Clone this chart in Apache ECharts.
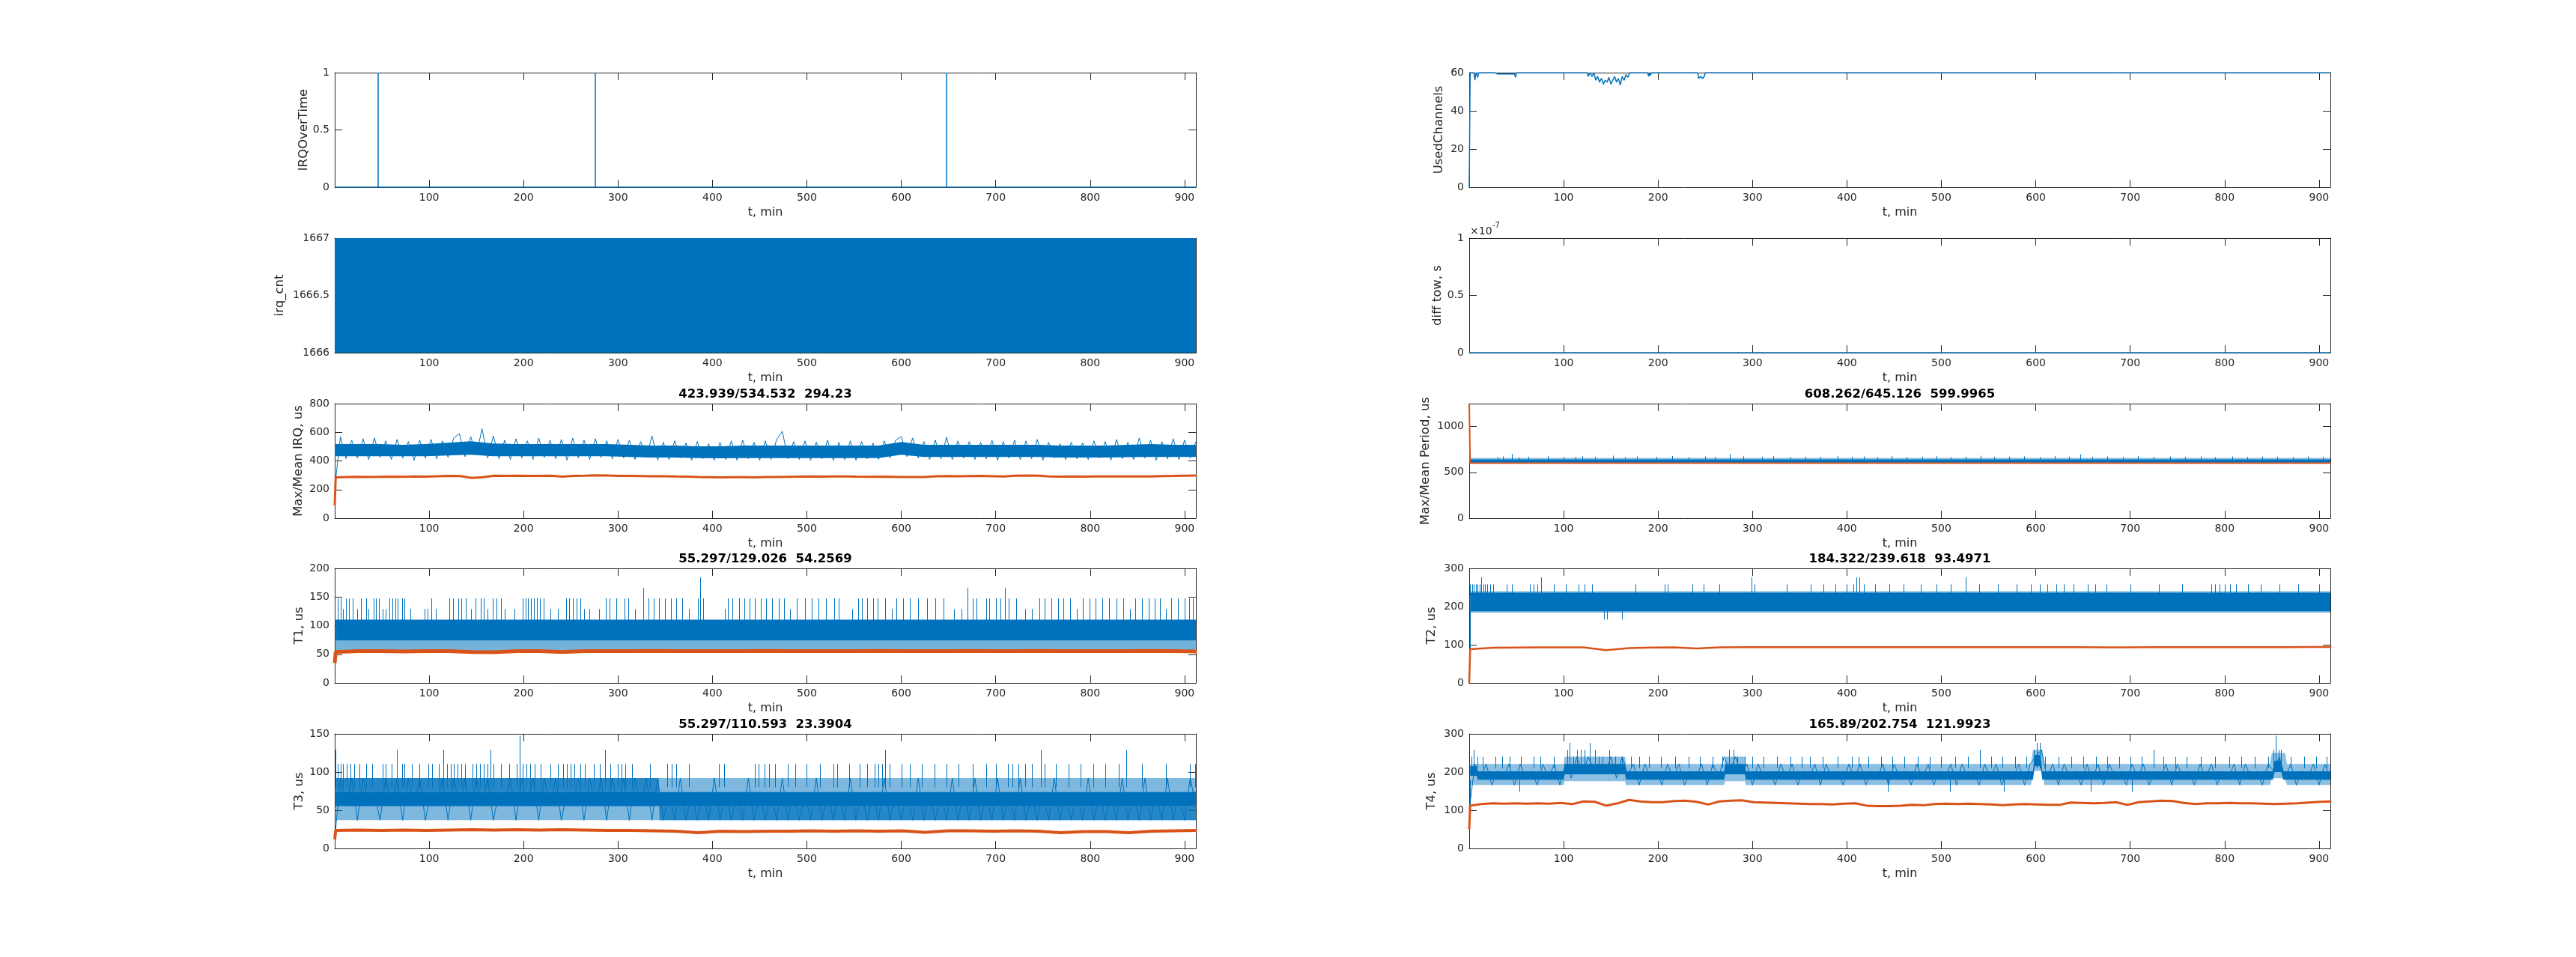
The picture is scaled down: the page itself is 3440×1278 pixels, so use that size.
<!DOCTYPE html>
<html>
<head>
<meta charset="utf-8">
<title>IRQ timing log</title>
<script src="https://cdn.jsdelivr.net/npm/echarts/dist/echarts.min.js"></script>
<style>
  html, body { margin: 0; padding: 0; background: #fff; }
  #chart { width: 3440px; height: 1278px; }
</style>
</head>
<body>
<div id="chart"></div>
<script>
// ---- data (t in minutes) ----

// IRQOverTime: zero with three single-sample hits
var irqOverPts = [[0, 0], [46, 0], [46, 1], [46, 0], [276, 0], [276, 1], [276, 0], [648, 0], [648, 1], [648, 0], [912, 0]];

// irq_cnt flips between 1666 and 1667 on every sample -> solid block
var cntBandT = [0, 912];
var cntBandLo = [1666, 1666];
var cntBandHi = [1667, 1667];

// Max/Mean IRQ, us
var irqMaxBandT0 = 0, irqMaxBandStep = 24;
var irqMaxBandLo = [433,433,433,433,433,438,443,433,433,433,433,433,433,428,423,423,420,418,420,420,420,420,420,420,420,443,428,428,428,428,428,428,423,423,423,426,428,428,428];
var irqMaxBandHi = [517,517,517,512,517,527,537,522,517,517,517,517,517,512,507,507,502,502,507,507,507,507,507,507,507,532,512,512,512,512,512,512,507,507,507,512,517,512,512];
var irqMaxStep = 6;
var irqMax = [210,570,415,545,420,555,410,560,425,540,
  410,550,420,535,405,545,420,550,415,540,
  425,560,590,430,570,440,625,420,575,415,
  545,410,555,420,540,410,560,425,545,415,
  550,405,560,420,545,410,555,425,540,415,
  550,420,545,410,535,425,575,405,530,410,
  540,420,525,405,535,415,520,405,530,410,
  540,405,545,415,530,405,540,410,550,607,
  415,535,410,540,405,530,415,545,405,530,
  410,540,405,535,415,525,410,540,420,545,
  570,430,560,420,535,410,545,415,565,410,
  540,420,535,410,530,415,545,405,535,420,
  545,410,540,415,550,405,530,420,520,410,
  530,415,525,410,540,420,535,405,550,415,
  530,410,560,420,545,405,535,415,555,410,
  545,420,535];
var irqMeanHead = [0, 90];
var irqMeanStep = 12;
var irqMean = [285,288,289,288,289,290,289,291,290,293,
  295,294,281,286,297,296,297,295,296,297,
  290,296,297,299,298,296,295,294,293,293,
  291,290,287,286,285,286,286,285,287,288,
  289,290,291,290,291,292,290,289,290,289,
  288,287,288,293,294,293,294,295,293,291,
  297,298,297,292,290,291,290,291,292,291,
  292,291,292,294,295,297,298];

// T1, us (values sit on an 18.43 us grid)
var t1CoreT = [1, 912], t1CoreLo = [73.7, 73.7], t1CoreHi = [110.6, 110.6];
var t1LightT = [1, 912], t1LightLo = [55.3, 55.3], t1LightHi = [73.7, 73.7];
var t1Spikes = [[3,147.5],[6,147.5],[9,129],[12,147.5],[15,147.5],[19,147.5],[24,129],[28,147.5],[33,147.5],[36,129],
  [41,147.5],[44,147.5],[47,147.5],[51,129],[54,129],[58,147.5],[61,147.5],[64,147.5],[67,147.5],[71,147.5],[74,147.5],
  [80,129],[95,129],[98,129],[102,147.5],[107,129],
  [121,147.5],[125,147.5],[131,147.5],[134,147.5],[139,147.5],[144,129],[149,147.5],[155,147.5],[158,147.5],[162,129],
  [167,147.5],[171,147.5],[176,147.5],[180,129],[190,129],
  [199,147.5],[202,147.5],[205,147.5],[208,147.5],[211,147.5],[214,147.5],[217,147.5],[221,147.5],[228,129],[236,129],
  [245,147.5],[248,147.5],[252,147.5],[256,147.5],[260,147.5],[264,129],[270,129],[280,129],
  [287,147.5],[291,147.5],[298,147.5],[307,147.5],[311,147.5],[318,129],[327,165.9],[332,147.5],[338,147.5],[343,147.5],
  [350,147.5],[356,147.5],[362,147.5],[368,147.5],[375,129],[385,147.5],[387,184.3],[390,147.5],
  [413,129],[416,147.5],[421,147.5],[428,147.5],[434,147.5],[439,147.5],[445,147.5],[451,147.5],[457,147.5],[463,147.5],
  [470,147.5],[476,147.5],[482,129],[489,147.5],[498,147.5],[505,147.5],[512,147.5],[520,147.5],[529,147.5],[534,147.5],
  [548,129],[554,147.5],[558,147.5],[564,147.5],[570,147.5],[575,147.5],[583,147.5],[590,129],[595,147.5],[602,147.5],
  [609,147.5],[618,147.5],[627,147.5],[636,147.5],[645,147.5],[656,129],[664,129],
  [670,165.9],[676,147.5],[680,147.5],[690,147.5],[693,147.5],[700,147.5],[705,147.5],[710,165.9],[714,147.5],[722,147.5],
  [731,129],[738,129],
  [746,147.5],[752,147.5],[759,147.5],[766,147.5],[772,147.5],[779,147.5],[786,129],[792,147.5],[799,147.5],[806,147.5],
  [813,147.5],[820,147.5],[828,147.5],[835,147.5],[842,129],[848,147.5],[855,147.5],[862,147.5],[868,147.5],[874,147.5],
  [880,129],[886,147.5],[893,147.5],[900,147.5],[905,147.5],[909,147.5]];
var t1MeanHead = [0, 35];
var t1MeanStep = 24;
var t1Mean = [54,55.5,55.5,55,55.5,55.5,54,53.5,55.5,55.5,
  54,55.5,55.5,55.5,56,55.5,55.5,55.5,55.5,56,
  55.5,55.5,55.5,55.5,56,55.5,55.5,55.5,56,55.5,
  55.5,56,55.5,55.5,55.5,55.5,56,55.5,55];

// T3, us
var t3CoreT = [1, 912], t3CoreLo = [55.3, 55.3], t3CoreHi = [73.7, 73.7];
var t3MidT = [1, 343, 344, 912], t3MidLo = [73.7, 73.7, 36.9, 36.9], t3MidHi = [92.2, 92.2, 55.3, 55.3];
var t3LightT = [1, 912], t3LightLo = [36.9, 36.9], t3LightHi = [92.2, 92.2];
var t3Step = 6;
var t3Max = [12,92.2,55.3,92.2,36.9,92.2,55.3,73.7,36.9,92.2,
  55.3,92.2,36.9,92.2,55.3,92.2,36.9,73.7,55.3,92.2,
  36.9,92.2,55.3,92.2,36.9,92.2,55.3,92.2,36.9,73.7,
  55.3,92.2,36.9,92.2,55.3,92.2,36.9,92.2,55.3,92.2,
  36.9,73.7,55.3,92.2,36.9,92.2,55.3,92.2,36.9,92.2,
  55.3,92.2,36.9,92.2,55.3,92.2,36.9,92.2,36.9,73.7,
  36.9,92.2,36.9,73.7,36.9,73.7,36.9,92.2,36.9,73.7,
  36.9,73.7,36.9,92.2,36.9,73.7,36.9,73.7,36.9,92.2,
  36.9,73.7,36.9,73.7,36.9,92.2,36.9,73.7,36.9,73.7,
  36.9,92.2,36.9,73.7,36.9,73.7,36.9,92.2,36.9,73.7,
  36.9,73.7,36.9,92.2,36.9,73.7,36.9,73.7,36.9,92.2,
  36.9,73.7,36.9,92.2,36.9,73.7,36.9,92.2,36.9,73.7,
  36.9,92.2,36.9,73.7,36.9,73.7,36.9,92.2,36.9,73.7,
  36.9,73.7,36.9,92.2,36.9,73.7,36.9,73.7,36.9,92.2,
  36.9,73.7,36.9,92.2,36.9,73.7,36.9,92.2,36.9,73.7,
  36.9,92.2,55.3];
var t3Spikes = [[1,129],[3,110.6],[6,110.6],[9,110.6],[13,110.6],[17,110.6],[21,110.6],[26,110.6],[33,110.6],[40,110.6],
  [51,110.6],[54,110.6],[60,110.6],[66,129],[71,110.6],[74,110.6],[82,110.6],[90,110.6],[99,110.6],[103,110.6],
  [110,110.6],[115,129],[119,110.6],[123,110.6],[126,110.6],[130,110.6],[134,110.6],[138,110.6],[146,110.6],[150,110.6],
  [154,110.6],[158,110.6],[162,110.6],[165,129],[168,110.6],[176,110.6],[185,110.6],[193,110.6],[196,147.5],[199,110.6],
  [203,110.6],[207,110.6],[212,110.6],[218,110.6],[228,110.6],[236,110.6],[242,110.6],[246,110.6],[250,110.6],[254,110.6],
  [260,110.6],[265,110.6],[274,110.6],[281,110.6],[286,129],[292,110.6],[300,110.6],[304,110.6],[308,110.6],[315,110.6],
  [334,110.6],[352,110.6],[357,110.6],[362,110.6],[375,110.6],[407,110.6],[412,110.6],[445,110.6],[449,110.6],[455,110.6],
  [460,110.6],[466,110.6],[480,110.6],[488,110.6],[500,110.6],[514,110.6],[528,110.6],[532,110.6],[545,110.6],[556,110.6],
  [564,110.6],[572,110.6],[576,110.6],[580,110.6],[583,129],[588,110.6],[600,110.6],[609,110.6],[622,110.6],[635,110.6],
  [648,110.6],[661,110.6],[676,110.6],[690,110.6],[700,110.6],[713,110.6],[718,110.6],[724,110.6],[731,110.6],[738,110.6],
  [748,129],[752,110.6],[764,110.6],[777,110.6],[790,110.6],[803,110.6],[816,110.6],[830,110.6],[838,129],[855,110.6],
  [880,110.6],[906,110.6],[911,110.6]];
var t3MeanHead = [0, 12];
var t3MeanStep = 24;
var t3Mean = [23.5,24,23.5,24,23.5,24,24.5,24,24.5,24,
  24.5,24,23.5,23.5,23,22.5,20.5,22.5,22,22.5,
  22.5,23,22.5,23,22.5,23,21,23,23,22.5,
  23,22.5,20.5,22,22,20.5,22.5,23,23.5];

// UsedChannels
var chanPts = [[0,0],[1,60],[5,60],[6,56],[7,60],[9,57.5],[10,60],[25,60],[26,59.3],[27,60],[30,59.3],[31,60],
  [36,59.3],[37,60],[42,59.3],[43,60],[48,59.3],[49,57.5],[50,60],[125,60],[126,58],[128,60],[130,58],[132,60],
  [134,56],[136,58],[138,55],[140,57],[142,54],[144,56],[146,55],[148,57.5],[150,54],[152,56],[154,58],[156,55],
  [158,57],[160,53.5],[162,58],[164,56],[166,59],[168,57.5],[170,60],[189,60],[190,58],[191,60],[192,58.5],[193,60],
  [242,60],[243,57],[245,58],[247,57],[249,58],[250,60],[912,60]];

// diff tow, s
var towPts = [[0, 0], [912, 0]];

// Max/Mean Period, us
var perCoreT = [1, 912], perCoreLo = [607, 607], perCoreHi = [639, 639];
var perLightT = [1, 912], perLightLo = [598, 598], perLightHi = [655, 655];
var perSpikes = [[30,668],[36,675],[45,700],[52,665],[63,672],[83,680],[100,666],[113,670],[120,676],[133,668],
  [152,682],[165,665],[178,674],[198,670],[215,678],[232,666],[250,672],[260,668],[276,700],[290,675],
  [310,668],[322,680],[340,666],[356,672],[372,670],[390,678],[405,668],[418,674],[432,666],[447,680],
  [463,670],[480,668],[495,676],[510,665],[526,672],[542,682],[556,668],[572,670],[588,674],[604,666],
  [620,678],[635,670],[647,695],[660,668],[676,674],[692,666],[708,680],[725,670],[742,672],[758,668],
  [775,676],[790,665],[808,674],[824,668],[840,672],[856,670],[872,666],[888,674],[904,668]];
var perMeanHead = [0, 1250];
var perMeanStep = 152;
var perMean = [600, 600, 600, 600, 600, 600, 600];

// T2, us
var t2CoreT = [1, 912], t2CoreLo = [188, 188], t2CoreHi = [236, 236];
var t2LightT = [1, 912], t2LightLo = [184.3, 184.3], t2LightHi = [239.6, 239.6];
var t2UpSpikes = [[1,258],[3,258],[5,258],[7,258],[9,258],[11,258],[13,276.5],[15,258],[17,258],[19,258],
  [22,258],[25,258],[40,258],[45,258],[64,258],[68,258],[72,258],[76,276.5],[90,258],[102,258],
  [116,258],[122,258],[130,258],[176,258],[207,258],[210,258],[236,258],[248,258],[265,258],[299,276.5],
  [302,258],[336,258],[362,258],[375,258],[388,258],[400,258],[407,258],[410,276.5],[413,276.5],[418,258],
  [430,258],[445,258],[460,258],[478,258],[495,258],[510,258],[526,276.5],[540,258],[560,258],[580,258],
  [595,258],[604,258],[612,258],[622,258],[630,258],[640,258],[655,258],[663,258],[675,258],[700,258],
  [730,258],[755,258],[786,258],[790,258],[795,258],[800,258],[806,258],[812,258],[825,258],[838,258],
  [858,258],[878,258],[900,258]];
var t2DownSpikes = [[0.5,90],[143,166],[146,166],[162,166]];
var t2MeanHead = [0, 0];
var t2MeanStep = 24;
var t2Mean = [88,92,92.5,93,93,93,86,91,92.5,93,
  90,93,93.5,93.5,93.5,93.5,93.5,93.5,93.5,93.5,
  93.5,93.5,93.5,93.5,93.5,93.5,93.5,93.5,93,93,
  93.5,93.5,93.5,93.5,93.5,93.5,93.5,94,94];

// T4, us
var t4CoreT  = [1, 8, 9, 100, 101, 165, 166, 270, 271, 292, 293, 597, 599, 605, 607, 851, 853, 860, 862, 912];
var t4CoreLo = [190,190,180,180,194,194,180,180,194,194,180,180,215,215,180,180,200,200,180,180];
var t4CoreHi = [215,215,202,202,221,221,202,202,221,221,202,202,245,245,202,202,230,230,202,202];
var t4LightT  = [1, 100, 101, 165, 166, 270, 271, 292, 293, 595, 597, 607, 609, 848, 850, 864, 866, 912];
var t4LightLo = [166,166,176,176,166,166,176,176,166,166,203,203,166,166,184,184,166,166];
var t4LightHi = [221,221,240,240,221,221,240,240,221,221,258,258,221,221,250,250,221,221];
var t4Step = 6;
var t4Max = [100,221,184,221,166,203,184,221,166,221,
  184,203,166,221,184,221,166,221,184,240,
  194,240,203,221,194,240,184,240,194,221,
  166,221,184,203,166,221,184,221,166,203,
  184,221,166,221,184,240,203,240,194,221,
  166,221,184,203,166,221,184,221,166,203,
  184,221,166,221,184,203,166,221,184,221,
  166,203,184,221,166,221,184,203,166,221,
  184,221,166,203,184,221,166,221,184,203,
  166,221,184,221,166,203,184,221,166,221,
  240,258,184,221,166,221,184,203,166,221,
  184,221,166,221,184,203,166,221,184,221,
  166,203,184,221,166,221,184,203,166,221,
  184,221,166,203,184,221,166,221,184,203,
  166,221,203,240,184,221,166,203,184,221,
  166,221,184];
var t4UpSpikes = [[2,240],[5,258],[9,240],[14,240],[28,240],[35,240],[43,240],[55,240],[68,240],[75,240],
  [90,240],[104,258],[106,276.5],[110,240],[114,258],[118,258],[122,258],[128,276.5],[133,258],[137,240],
  [141,240],[148,258],[155,240],[162,240],[171,240],[180,240],[190,240],[203,240],[218,240],[232,240],
  [244,240],[258,240],[268,240],[275,258],[280,258],[284,240],[292,240],[300,240],[312,240],[326,240],
  [340,240],[352,240],[361,240],[374,240],[390,240],[405,240],[412,240],[423,240],[436,240],[448,240],
  [461,240],[475,240],[488,240],[500,240],[515,240],[528,240],[541,258],[553,240],[565,240],[578,240],
  [590,240],[598,258],[601,276.5],[604,276.5],[610,240],[624,240],[638,240],[650,240],[664,240],[676,240],
  [688,240],[700,240],[712,240],[725,258],[735,240],[748,240],[760,240],[775,240],[790,240],[805,240],
  [818,240],[832,240],[846,240],[852,258],[854,295],[857,258],[860,258],[870,240],[884,240],[897,240],
  [908,240]];
var t4DownSpikes = [[0.5,100],[53,148],[443,148],[509,148],[566,148],[658,148],[702,148]];
var t4MeanHead = [0, 50];
var t4MeanStep = 12;
var t4Mean = [112,116,118,117,118,117,118,117,119,116,
  123,122,112,118,127,123,121,121,124,125,
  122,115,123,125,126,121,120,119,118,117,
  116,116,115,117,118,112,111,111,112,114,
  113,116,117,116,117,116,115,113,115,116,
  115,114,114,120,119,118,119,121,114,121,
  123,125,124,119,116,118,118,119,118,118,
  117,116,117,118,120,122,123];

// ---- look ----
var BLUE = '#0072BD', ORANGE = '#D95319', AX = '#262626';
var FONT = 'DejaVu Sans';
var X_MAX = 912;
var COL_LEFT = [447, 1962];
var PANEL_W = 1150;
var ROW_TOP = [97, 318, 539, 759, 980];
var PANEL_H = 153;

function stepPts(head, t0, step, vals) {
  var pts = vals.map(function (v, i) { return [t0 + i * step, v]; });
  return head ? [head].concat(pts) : pts;
}
function bandRows(ts, lo, hi) {
  return ts.map(function (t, i) { return [t, lo[i], hi[i]]; });
}
function blueA(op) { return 'rgba(0,114,189,' + op + ')'; }

function lineS(pts, color, width) {
  return { kind: 'line', data: pts, color: color, width: width };
}
function bandS(rows, op) {
  return { kind: 'band', data: rows, op: op };
}
function spikeS(pairs, base) {
  return { kind: 'spike', data: pairs.map(function (p) { return [p[0], base, p[1]]; }) };
}

var fmt = function (v) { return String(+v.toFixed(6)); };

var panels = [
  { col: 0, row: 0, yName: 'IRQOverTime', yMin: 0, yMax: 1, yStep: 0.5, nameGap: 14,
    series: [lineS(irqOverPts, BLUE, 1.5)] },
  { col: 0, row: 1, yName: 'irq_cnt', yMin: 1666, yMax: 1667, yStep: 0.5, nameGap: 65,
    series: [bandS(bandRows(cntBandT, cntBandLo, cntBandHi), 1)] },
  { col: 0, row: 2, yName: 'Max/Mean IRQ, us', yMin: 0, yMax: 800, yStep: 200, nameGap: 40,
    title: '423.939/534.532  294.23',
    series: [
      bandS(bandRows(irqMaxBandLo.map(function (v, i) { return irqMaxBandT0 + i * irqMaxBandStep; }), irqMaxBandLo, irqMaxBandHi), 1),
      lineS(stepPts(null, 0, irqMaxStep, irqMax), BLUE, 1),
      lineS(stepPts(irqMeanHead, 1, irqMeanStep, irqMean), ORANGE, 3)
    ] },
  { col: 0, row: 3, yName: 'T1, us', yMin: 0, yMax: 200, yStep: 50, nameGap: 39,
    title: '55.297/129.026  54.2569',
    series: [
      bandS(bandRows(t1LightT, t1LightLo, t1LightHi), 0.55),
      bandS(bandRows(t1CoreT, t1CoreLo, t1CoreHi), 1),
      spikeS(t1Spikes, 100),
      lineS(stepPts(t1MeanHead, 1, t1MeanStep, t1Mean), ORANGE, 5)
    ] },
  { col: 0, row: 4, yName: 'T3, us', yMin: 0, yMax: 150, yStep: 50, nameGap: 39,
    title: '55.297/110.593  23.3904',
    series: [
      bandS(bandRows(t3LightT, t3LightLo, t3LightHi), 0.5),
      bandS(bandRows(t3MidT, t3MidLo, t3MidHi), 0.7),
      bandS(bandRows(t3CoreT, t3CoreLo, t3CoreHi), 1),
      lineS(stepPts(null, 0, t3Step, t3Max), BLUE, 1),
      spikeS(t3Spikes, 80),
      lineS(stepPts(t3MeanHead, 1, t3MeanStep, t3Mean), ORANGE, 4)
    ] },
  { col: 1, row: 0, yName: 'UsedChannels', yMin: 0, yMax: 60, yStep: 20, nameGap: 32,
    series: [lineS(chanPts, BLUE, 1.5)] },
  { col: 1, row: 1, yName: 'diff tow, s', yMin: 0, yMax: 1e-7, yStep: 5e-8, nameGap: 34,
    labelFmt: function (v) { return String(+(v * 1e7).toFixed(2)); },
    series: [lineS(towPts, BLUE, 1.5)] },
  { col: 1, row: 2, yName: 'Max/Mean Period, us', yMin: 0, yMax: 1250, yStep: 500, nameGap: 50,
    title: '608.262/645.126  599.9965',
    series: [
      bandS(bandRows(perLightT, perLightLo, perLightHi), 0.55),
      bandS(bandRows(perCoreT, perCoreLo, perCoreHi), 1),
      spikeS(perSpikes, 630),
      lineS(stepPts(perMeanHead, 1, perMeanStep, perMean), ORANGE, 2)
    ] },
  { col: 1, row: 3, yName: 'T2, us', yMin: 0, yMax: 300, yStep: 100, nameGap: 42,
    title: '184.322/239.618  93.4971',
    series: [
      bandS(bandRows(t2LightT, t2LightLo, t2LightHi), 0.6),
      bandS(bandRows(t2CoreT, t2CoreLo, t2CoreHi), 1),
      spikeS(t2UpSpikes, 230),
      spikeS(t2DownSpikes, 190),
      lineS(stepPts(t2MeanHead, 1, t2MeanStep, t2Mean), ORANGE, 2.5)
    ] },
  { col: 1, row: 4, yName: 'T4, us', yMin: 0, yMax: 300, yStep: 100, nameGap: 42,
    title: '165.89/202.754  121.9923',
    series: [
      bandS(bandRows(t4LightT, t4LightLo, t4LightHi), 0.45),
      bandS(bandRows(t4CoreT, t4CoreLo, t4CoreHi), 1),
      lineS(stepPts(null, 0, t4Step, t4Max), BLUE, 1),
      spikeS(t4UpSpikes, 210),
      spikeS(t4DownSpikes, 180),
      lineS(stepPts(t4MeanHead, 1, t4MeanStep, t4Mean), ORANGE, 3)
    ] }
];

var axisLine = { onZero: false, lineStyle: { color: AX, width: 1 } };
var axisTick = { inside: true, length: 10, lineStyle: { color: AX, width: 1 } };
var labelStyle = { color: AX, fontSize: 14, fontFamily: FONT };

var option = {
  animation: false,
  backgroundColor: '#fff',
  textStyle: { fontFamily: FONT },
  grid: [], xAxis: [], yAxis: [], series: [], title: [],
  graphic: [
    { type: 'text', left: 1963, top: 302, style: { text: '×10', font: '14px "DejaVu Sans"', fill: AX } },
    { type: 'text', left: 1993, top: 296, style: { text: '-7', font: '10px "DejaVu Sans"', fill: AX } }
  ]
};

panels.forEach(function (p, i) {
  var left = COL_LEFT[p.col], top = ROW_TOP[p.row];
  option.grid.push({ left: left, top: top, width: PANEL_W, height: PANEL_H });

  var xBase = { gridIndex: i, type: 'value', min: 0, max: X_MAX, interval: 100,
    axisLine: axisLine, axisTick: axisTick, splitLine: { show: false } };
  option.xAxis.push(Object.assign({}, xBase, {
    position: 'bottom',
    axisLabel: Object.assign({ margin: 7, showMinLabel: false, showMaxLabel: false }, labelStyle),
    name: 't, min', nameLocation: 'middle', nameGap: 26,
    nameTextStyle: { color: AX, fontSize: 16, fontFamily: FONT }
  }));
  option.xAxis.push(Object.assign({}, xBase, { position: 'top', axisLabel: { show: false } }));

  var yBase = { gridIndex: i, type: 'value', min: p.yMin, max: p.yMax, interval: p.yStep,
    axisLine: axisLine, axisTick: axisTick, splitLine: { show: false } };
  option.yAxis.push(Object.assign({}, yBase, {
    position: 'left',
    axisLabel: Object.assign({ margin: 7, formatter: p.labelFmt || fmt, showMaxLabel: p.yMax === 1250 ? false : null }, labelStyle),
    name: p.yName, nameLocation: 'middle', nameRotate: 90, nameGap: p.nameGap,
    nameTextStyle: { color: AX, fontSize: 16.5, fontFamily: FONT }
  }));
  option.yAxis.push(Object.assign({}, yBase, { position: 'right', axisLabel: { show: false } }));

  if (p.title) {
    option.title.push({ text: p.title, left: left + PANEL_W / 2, top: top - 22, textAlign: 'center', padding: 0,
      textStyle: { fontSize: 16.5, fontWeight: 'bold', color: '#000', fontFamily: FONT, lineHeight: 20 } });
  }

  p.series.forEach(function (s) {
    var common = { xAxisIndex: 2 * i, yAxisIndex: 2 * i, silent: true, animation: false };
    if (s.kind === 'line') {
      option.series.push(Object.assign(common, {
        type: 'line', data: s.data, showSymbol: false, symbol: 'none',
        lineStyle: { color: s.color, width: s.width }, itemStyle: { color: s.color }
      }));
    } else if (s.kind === 'band') {
      var rows = s.data, fill = blueA(s.op);
      option.series.push(Object.assign(common, {
        type: 'custom', data: rows, encode: { x: 0, y: [1, 2] },
        renderItem: function (params, api) {
          if (params.dataIndex !== 0) return null;
          var upper = rows.map(function (r) { return api.coord([r[0], r[2]]); });
          var lower = rows.map(function (r) { return api.coord([r[0], r[1]]); }).reverse();
          return { type: 'polygon', shape: { points: upper.concat(lower) }, style: { fill: fill } };
        }
      }));
    } else {
      option.series.push(Object.assign(common, {
        type: 'custom', data: s.data, encode: { x: 0, y: [1, 2] },
        renderItem: function (params, api) {
          var a = api.coord([api.value(0), api.value(1)]);
          var b = api.coord([api.value(0), api.value(2)]);
          var x = Math.round(a[0]) + 0.5;
          return { type: 'line', shape: { x1: x, y1: a[1], x2: x, y2: b[1] },
            style: { stroke: BLUE, lineWidth: 1 } };
        }
      }));
    }
  });
});

var chart = echarts.init(document.getElementById('chart'));
chart.setOption(option);
window.addEventListener('resize', function () { chart.resize(); });
</script>
</body>
</html>
